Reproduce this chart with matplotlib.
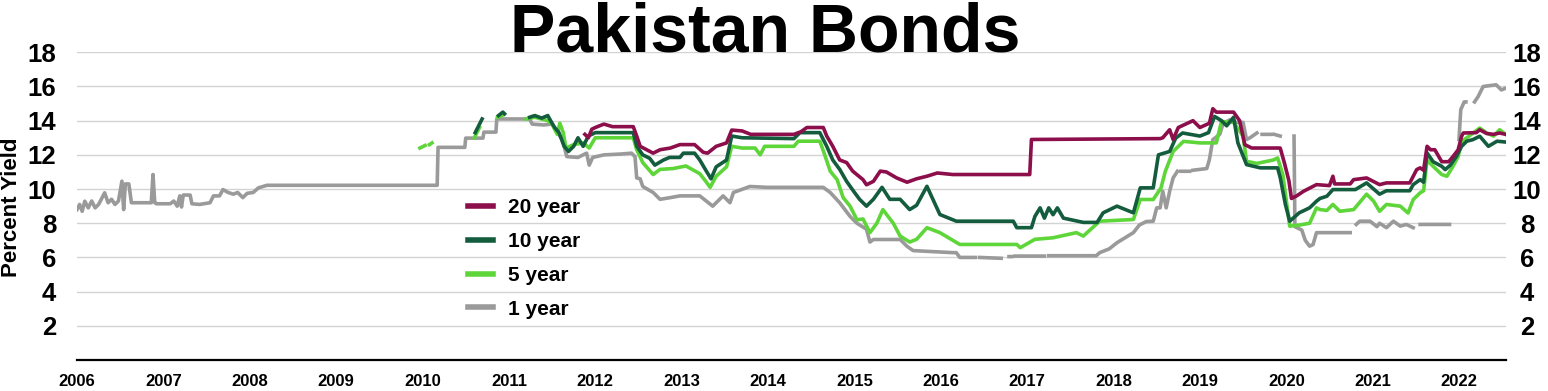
import numpy as np
import matplotlib
matplotlib.use("Agg")
import matplotlib.pyplot as plt

nan = np.nan

# 20 year yield (decimal year, percent)
y20_t = [2011.88, 2011.92, 2011.96, 2012.00, 2012.10, 2012.20, 2012.44, 2012.48, 2012.52, 2012.67,
         2012.75, 2012.87, 2012.98, 2013.15, 2013.25, 2013.30, 2013.40, 2013.52, 2013.58, 2013.70,
         2013.80, 2014.30, 2014.38, 2014.45, 2014.64, 2014.68, 2014.75, 2014.83, 2014.91, 2014.98,
         2015.10, 2015.14, 2015.22, 2015.30, 2015.37, 2015.49, 2015.61, 2015.72, 2015.84, 2015.96,
         2016.14, 2017.03, 2017.05, 2018.54, 2018.57, 2018.65, 2018.69, 2018.75, 2018.92, 2019.00,
         2019.11, 2019.15, 2019.19, 2019.39, 2019.46, 2019.52, 2019.60, 2019.93, 2019.98, 2020.03,
         2020.06, 2020.12, 2020.20, 2020.35, 2020.50, 2020.54, 2020.56, 2020.74, 2020.78, 2020.93,
         2021.08, 2021.16, 2021.43, 2021.47, 2021.51, 2021.55, 2021.59, 2021.63, 2021.67, 2021.72,
         2021.80, 2021.88, 2021.93, 2021.99, 2022.03, 2022.05, 2022.20, 2022.24, 2022.32, 2022.40,
         2022.47, 2022.54]
y20_v = [13.2, 13.0, 13.5, 13.6, 13.8, 13.65, 13.65, 13.1, 12.5, 12.1,
         12.3, 12.4, 12.6, 12.6, 12.15, 12.1, 12.5, 12.7, 13.45, 13.4,
         13.2, 13.2, 13.35, 13.6, 13.6, 13.1, 12.5, 11.7, 11.55, 11.05,
         10.55, 10.25, 10.45, 11.05, 11.0, 10.65, 10.4, 10.6, 10.75, 10.94,
         10.85, 10.85, 12.9, 12.95, 13.0, 13.47, 12.9, 13.6, 14.0, 13.6,
         13.85, 14.7, 14.5, 14.5, 14.0, 12.6, 12.4, 12.4, 11.5, 10.5,
         9.45, 9.6, 9.87, 10.26, 10.2, 10.75, 10.3, 10.3, 10.55, 10.65,
         10.26, 10.36, 10.36, 10.75, 11.14, 11.24, 11.1, 12.5, 12.3, 12.3,
         11.6, 11.6, 11.9, 12.3, 13.09, 13.28, 13.3, 13.47, 13.25, 13.2,
         13.28, 13.2]

# 10 year yield
y10_t = [2010.61, 2010.69, nan, 2010.88, 2010.93, 2010.95, nan,
         2011.24, 2011.30, 2011.38, 2011.45, 2011.50, 2011.53, 2011.58, 2011.64, 2011.69, 2011.75,
         2011.80, 2011.86, 2011.92, 2012.00, 2012.44, 2012.48, 2012.55, 2012.63, 2012.69, 2012.79,
         2012.86, 2012.98, 2013.02, 2013.15, 2013.21, 2013.28, 2013.34, 2013.40, 2013.52, 2013.58,
         2013.70, 2014.30, 2014.37, 2014.60, 2014.68, 2014.75, 2014.83, 2014.91, 2014.98, 2015.06,
         2015.14, 2015.22, 2015.32, 2015.41, 2015.53, 2015.64, 2015.72, 2015.84, 2015.99, 2016.18,
         2016.84, 2016.88, 2017.05, 2017.09, 2017.15, 2017.20, 2017.25, 2017.30, 2017.35, 2017.42,
         2017.65, 2017.81, 2017.88, 2018.04, 2018.23, 2018.31, 2018.46, 2018.52, 2018.65, 2018.72,
         2018.80, 2019.00, 2019.10, 2019.17, 2019.25, 2019.31, 2019.39, 2019.44, 2019.54, 2019.70,
         2019.90, 2019.93, 2019.99, 2020.04, 2020.15, 2020.27, 2020.35, 2020.39, 2020.47, 2020.54,
         2020.80, 2020.93, 2021.08, 2021.16, 2021.43, 2021.47, 2021.55, 2021.59, 2021.63, 2021.70,
         2021.80, 2021.84, 2021.90, 2021.97, 2022.03, 2022.09, 2022.16, 2022.24, 2022.34, 2022.44,
         2022.54]
y10_v = [13.3, 14.1, nan, 14.3, 14.5, 14.4, nan,
         14.2, 14.3, 14.15, 14.3, 13.85, 13.6, 13.3, 12.5, 12.2, 12.5,
         13.0, 12.5, 13.1, 13.3, 13.3, 12.5, 12.0, 11.8, 11.4, 11.7,
         11.85, 11.85, 12.1, 12.1, 11.7, 11.1, 10.6, 11.3, 11.7, 13.1,
         13.0, 12.95, 13.3, 13.3, 12.5, 11.7, 11.15, 10.45, 9.95, 9.4,
         9.0, 9.4, 10.1, 9.4, 9.4, 8.8, 9.05, 10.16, 8.51, 8.12,
         8.12, 7.74, 7.74, 8.4, 8.9, 8.3, 8.9, 8.5, 8.9, 8.3,
         8.05, 8.05, 8.61, 9.0, 8.61, 10.07, 10.07, 12.0, 12.2, 12.98,
         13.28, 13.1, 13.3, 14.25, 14.0, 13.7, 14.2, 12.7, 11.43, 11.24,
         11.24, 10.67, 9.1, 8.12, 8.61, 8.9, 9.29, 9.45, 9.58, 9.97,
         9.97, 10.36, 9.7, 9.9, 9.9, 10.26, 10.55, 10.4, 12.11, 11.6,
         11.33, 11.14, 11.4, 11.91, 12.5, 12.8, 12.89, 13.09, 12.5, 12.8,
         12.75]

# 5 year yield
y5_t = [2009.97, 2010.03, nan, 2010.08, 2010.11, nan, 2010.60, 2010.66, nan, 2010.87, 2010.92, nan,
        2011.20, 2011.30, 2011.45, 2011.50, 2011.56, 2011.59, 2011.63, 2011.66, 2011.75, 2011.86,
        2011.93, 2012.00, 2012.44, 2012.48, 2012.55, 2012.67, 2012.75, 2012.90, 2013.05, 2013.21,
        2013.28, 2013.33, 2013.40, 2013.52, 2013.58, 2013.70, 2013.85, 2013.91, 2013.96, 2014.30,
        2014.35, 2014.60, 2014.65, 2014.72, 2014.80, 2014.87, 2014.95, 2015.03, 2015.10, 2015.18,
        2015.26, 2015.33, 2015.45, 2015.53, 2015.64, 2015.72, 2015.84, 2015.99, 2016.22, 2016.88,
        2016.92, 2017.09, 2017.30, 2017.57, 2017.65, 2017.84, 2018.23, 2018.31, 2018.46, 2018.55,
        2018.60, 2018.69, 2018.81, 2019.00, 2019.19, 2019.25, 2019.39, 2019.50, 2019.54, 2019.66,
        2019.85, 2019.90, 2019.96, 2020.04, 2020.16, 2020.27, 2020.35, 2020.39, 2020.47, 2020.54,
        2020.62, 2020.78, 2020.93, 2021.01, 2021.08, 2021.16, 2021.32, 2021.41, 2021.47, 2021.55,
        2021.59, 2021.63, 2021.70, 2021.80, 2021.86, 2021.93, 2021.99, 2022.03, 2022.09, 2022.24,
        2022.32, 2022.40, 2022.47, 2022.54]
y5_v = [12.4, 12.55, nan, 12.6, 12.7, nan, 13.0, 13.6, nan, 14.2, 14.3, nan,
        14.1, 14.2, 14.0, 13.8, 13.2, 13.85, 13.3, 12.4, 12.6, 12.7,
        12.4, 13.0, 13.0, 12.3, 11.55, 10.85, 11.15, 11.2, 11.35, 10.9,
        10.45, 10.1, 10.75, 11.3, 12.5, 12.4, 12.4, 12.0, 12.5, 12.5,
        12.8, 12.8, 12.1, 11.05, 10.55, 9.5, 9.0, 8.2, 8.25, 7.45,
        8.0, 8.8, 8.0, 7.25, 6.9, 7.06, 7.74, 7.45, 6.76, 6.76,
        6.57, 7.06, 7.15, 7.45, 7.25, 8.12, 8.22, 9.39, 9.39, 10.07,
        11.04, 12.2, 12.79, 12.7, 12.7, 13.95, 13.9, 13.1, 11.62, 11.5,
        11.7, 11.82, 10.85, 7.83, 7.9, 8.0, 8.9, 8.8, 8.75, 9.1,
        8.7, 8.8, 9.7, 9.3, 8.7, 9.1, 9.0, 8.6, 9.39, 9.78,
        9.9, 11.7, 11.33, 10.85, 10.75, 11.33, 11.9, 12.8, 13.0, 13.57,
        13.28, 13.1, 13.47, 13.2]

# 1 year yield
y1_t = [2006.00, 2006.03, 2006.06, 2006.09, 2006.13, 2006.17, 2006.21, 2006.25, 2006.29, 2006.32,
        2006.36, 2006.40, 2006.44, 2006.48, 2006.52, 2006.54, 2006.56, 2006.60, 2006.63, 2006.86,
        2006.88, 2006.90, 2006.92, 2007.08, 2007.12, 2007.16, 2007.19, 2007.21, 2007.23, 2007.31,
        2007.33, 2007.42, 2007.54, 2007.58, 2007.65, 2007.69, 2007.75, 2007.81, 2007.86, 2007.92,
        2007.97, 2008.04, 2008.10, 2008.16, 2008.20, 2010.17, 2010.18, 2010.49, 2010.50, 2010.70,
        2010.71, 2010.85, 2010.86, 2011.24, 2011.27, 2011.40, 2011.50, 2011.55, 2011.62, 2011.67,
        2011.80, 2011.90, 2011.93, 2011.97, 2012.10, 2012.30, 2012.42, 2012.46, 2012.48, 2012.52,
        2012.55, 2012.67, 2012.75, 2012.87, 2012.98, 2013.21, 2013.36, 2013.48, 2013.56, 2013.60,
        2013.79, 2013.99, 2014.64, 2014.72, 2014.83, 2014.95, 2015.03, 2015.14, 2015.18, 2015.22,
        2015.53, 2015.61, 2015.68, 2016.14, 2016.18, 2016.22, 2016.40, nan, 2016.45, 2016.70, nan,
        2016.79, 2016.82, nan, 2016.86, 2017.20, nan, 2017.25, 2017.80, 2017.84, 2017.95, 2018.04,
        2018.15, 2018.23, 2018.30, 2018.38, 2018.46, 2018.50, 2018.54, 2018.57, 2018.61, 2018.65,
        2018.69, 2018.74, nan, 2018.78, 2018.88, nan, 2018.92, 2019.08, 2019.11, 2019.15, 2019.23,
        2019.27, 2019.35, 2019.42, 2019.50, 2019.54, 2019.58, 2019.66, nan, 2019.72, 2019.82, nan,
        2019.86, 2019.93, nan, 2020.09, 2020.10, 2020.18, 2020.22, 2020.27, 2020.31, 2020.35, 2020.74,
        nan, 2020.81, 2020.85, 2020.97, 2021.05, 2021.08, 2021.16, 2021.24, 2021.32, 2021.39, 2021.47,
        nan, 2021.55, 2021.89, nan, 2022.00, 2022.02, 2022.06, 2022.08, nan, 2022.18, 2022.22,
        2022.28, 2022.43, 2022.49, 2022.54]
y1_v = [8.8, 9.1, 8.7, 9.29, 8.9, 9.3, 8.9, 9.1, 9.49, 9.78,
        9.2, 9.4, 9.1, 9.3, 10.46, 8.8, 10.3, 10.3, 9.2, 9.2,
        10.85, 9.2, 9.14, 9.14, 9.3, 9.0, 9.6, 8.95, 9.65, 9.65,
        9.14, 9.1, 9.2, 9.6, 9.6, 9.97, 9.8, 9.7, 9.8, 9.5,
        9.75, 9.8, 10.07, 10.16, 10.22, 10.22, 12.44, 12.44, 12.98, 12.98,
        13.33, 13.33, 14.1, 14.1, 13.8, 13.75, 13.8, 13.4, 12.9, 11.9,
        11.85, 12.1, 11.4, 11.85, 12.0, 12.05, 12.1, 11.9, 10.65, 10.6,
        10.15, 9.8, 9.4, 9.5, 9.6, 9.6, 9.0, 9.6, 9.2, 9.8,
        10.15, 10.1, 10.1, 9.8, 9.2, 8.4, 8.0, 7.65, 6.9, 7.05,
        7.05, 6.65, 6.4, 6.28, 6.28, 6.0, 6.0, nan, 6.0, 5.95, nan,
        6.05, 6.05, nan, 6.08, 6.08, nan, 6.1, 6.1, 6.28, 6.5, 6.86,
        7.2, 7.45, 7.9, 8.1, 8.12, 8.9, 8.9, 9.87, 8.9, 9.87,
        10.65, 11.04, nan, 11.04, 11.04, nan, 11.1, 11.2, 11.72, 12.89, 13.2,
        13.86, 14.05, 13.9, 13.9, 12.9, 13.0, 13.28, nan, 13.2, 13.2, nan,
        13.2, 13.1, nan, 13.1, 7.8, 7.6, 7.0, 6.66, 6.75, 7.45, 7.45,
        nan, 7.93, 8.12, 8.12, 7.8, 8.0, 7.74, 8.12, 7.83, 7.93, 7.74,
        nan, 7.93, 7.93, nan, 12.9, 14.64, 15.1, 15.1, nan, 15.1, 15.4,
        16.0, 16.1, 15.8, 15.9]

years = list(range(2006, 2023))
yticks = list(range(2, 20, 2))

c20 = "#8c0f4c"
c10 = "#135c3e"
c5 = "#5ed63a"
c1 = "#9a9a9a"

plt.rcParams['font.family'] = ['Liberation Sans', 'DejaVu Sans']
plt.rcParams['font.weight'] = 'bold'

fig = plt.figure(figsize=(15.48, 3.91), dpi=100)
ax = fig.add_axes([77 / 1548, 1 - 360 / 391, (1506 - 77) / 1548, (360 - 52.3) / 391])

lw = 2.6
ax.plot(y1_t, y1_v, color=c1, lw=lw, label='1 year', zorder=3)
ax.plot(y5_t, y5_v, color=c5, lw=lw, label='5 year', zorder=4)
ax.plot(y10_t, y10_v, color=c10, lw=lw, label='10 year', zorder=5)
ax.plot(y20_t, y20_v, color=c20, lw=lw, label='20 year', zorder=6)

ax.set_xlim(2006, 2022.544)
ax.set_ylim(0, 18)
ax.set_xticks(years)
ax.set_xticklabels([str(y) for y in years], fontsize=12, fontweight='bold')
ax.set_yticks(yticks)
ax.set_yticklabels([str(v) for v in yticks], fontsize=18.5, fontweight='bold')
ax.tick_params(axis='x', length=0, pad=10)
ax.tick_params(axis='y', length=0, pad=17, labelright=True, right=False)
ax.grid(axis='y', color='#d3d3d3', lw=1, zorder=0)
for s in ['top', 'left', 'right']:
    ax.spines[s].set_visible(False)
ax.spines['bottom'].set_color('black')
ax.spines['bottom'].set_linewidth(1.6)
ax.set_axisbelow(True)

# labels on the right side are centred
for t in ax.yaxis.get_major_ticks():
    t.label2.set_horizontalalignment('center')
    t.set_pad(15)

fig.text(12 / 1548, 1 - 207 / 391, 'Percent Yield', rotation=90, ha='center', va='center',
         fontsize=16, fontweight='bold')
fig.text(765 / 1548, 1 - 52 / 391, 'Pakistan Bonds', ha='center', va='baseline',
         fontsize=49, fontweight='bold')

h, l = ax.get_legend_handles_labels()
leg = ax.legend(h[::-1], l[::-1], loc='center left',
                bbox_to_anchor=((468 - 77) / 1429, (360 - 258.5) / 307.7),
                frameon=False, handlelength=1.2, handletextpad=0.7, labelspacing=0.71,
                borderpad=0, borderaxespad=0, prop={'weight': 'bold', 'size': 15})
for line in leg.get_lines():
    line.set_linewidth(4)

fig.savefig('out.png', dpi=100)
